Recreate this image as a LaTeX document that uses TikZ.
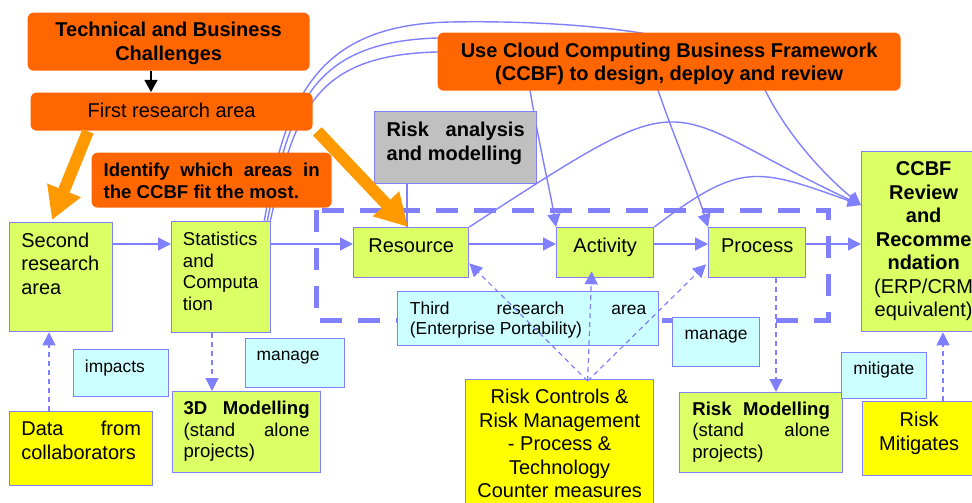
\documentclass[tikz,border=0pt]{standalone}
\usepackage{fontspec}
\setmainfont{Liberation Sans}
\usetikzlibrary{arrows.meta}
\definecolor{lineblue}{HTML}{8080FF}
\definecolor{boxgreen}{HTML}{DDFF66}
\definecolor{boxcyan}{HTML}{CCFFFF}
\definecolor{boxyellow}{HTML}{FFFF00}
\definecolor{boxgray}{HTML}{C0C0C0}
\definecolor{boxorange}{HTML}{FF6600}
\definecolor{arroworange}{HTML}{FF9900}
\newcommand{\txtL}{\fontsize{20}{23.5}\selectfont}
\newcommand{\txtM}{\fontsize{18.6}{21.5}\selectfont}
\newcommand{\txtS}{\fontsize{17.4}{19.3}\selectfont}
%% width, height, first baseline, text
\newcommand{\celltext}[4]{\parbox[c][#2][t]{#1}{\rule{0pt}{#3}#4}}
\pgfdeclarelayer{back}
\pgfsetlayers{back,main}
\tikzset{
  cellbox/.style={anchor=north west, inner ysep=0pt, line width=1.3pt, font=\txtL},
  orangebox/.style={cellbox, fill=boxorange, rounded corners=6pt},
  greenbox/.style={cellbox, draw=lineblue, fill=boxgreen},
  cyanbox/.style={cellbox, draw=lineblue, fill=boxcyan},
  yellowbox/.style={cellbox, draw=lineblue, fill=boxyellow},
  graybox/.style={cellbox, draw=lineblue, fill=boxgray},
  plainlink/.style={draw=lineblue, line width=1.4pt},
  link/.style={plainlink, -{Triangle[length=13pt,width=13pt]}},
  dlink/.style={link, line width=1.2pt, dash pattern=on 5pt off 4pt},
  bigarrow/.style={draw=arroworange, line width=12pt, -{Triangle[length=32pt,width=34pt]}},
  region/.style={draw=lineblue, line width=5pt, dash pattern=on 22pt off 16pt},
}
\begin{document}
\begin{tikzpicture}[x=1pt,y=-1pt]
  \useasboundingbox (0,0) rectangle (972,503);
  %% orange boxes
  \node[orangebox, inner xsep=8pt] (tech) at (27,12) {\celltext{266pt}{58pt}{24pt}{\centering\bfseries Technical and Business\\Challenges}};
  \node[orangebox, inner xsep=8pt] (first) at (30,92) {\celltext{266pt}{38pt}{24.7pt}{\centering First research area}};
  \node[orangebox, inner xsep=12pt, font=\txtM] (ident) at (91,152) {\celltext{216pt}{55pt}{24pt}{\raggedright\bfseries Identify\hfill which\hfill areas\hfill in\\the CCBF fit the most.}};
  \node[orangebox, inner xsep=8pt] (cloud) at (437,32) {\celltext{447pt}{58pt}{24.7pt}{\centering\bfseries Use Cloud Computing Business Framework\\(CCBF) to design, deploy and review}};
  \node[graybox, inner xsep=12pt] (risk) at (374,111) {\celltext{138pt}{72pt}{25pt}{\raggedright\bfseries Risk\hfill analysis\\and modelling}};
  %% main row
  \node[greenbox, inner xsep=11.7pt] (second) at (9,222) {\celltext{79.6pt}{109pt}{24.7pt}{\raggedright Second\\research\\area}};
  \node[greenbox, inner xsep=11.3pt, font=\txtM] (stat) at (171,221) {\celltext{76.4pt}{111pt}{24pt}{\raggedright Statistics\\and\\Computa\\tion}};
  \node[greenbox, inner xsep=5pt] (res) at (353,227) {\celltext{105pt}{50pt}{24.7pt}{\centering Resource}};
  \node[greenbox, inner xsep=5pt] (act) at (556,227) {\celltext{87pt}{50pt}{24.7pt}{\centering Activity}};
  \node[greenbox, inner xsep=5pt] (proc) at (708,227) {\celltext{87pt}{50pt}{24.7pt}{\centering Process}};
  \node[greenbox, inner xsep=6pt] (ccbf) at (861,151) {\celltext{112pt}{180pt}{24pt}{\centering{\bfseries CCBF\\Review\\and\\Recomme\\ndation}\\(ERP/CRM\\equivalent)}};
  %% lower boxes
  \node[cyanbox, inner xsep=12.3pt, font=\txtS] (third) at (397,291) {\celltext{236.4pt}{54pt}{23.3pt}{\raggedright Third\hfill research\hfill area\\(Enterprise Portability)}};
  \node[cyanbox, inner xsep=11.3pt, font=\txtS] (imp) at (73,349) {\celltext{72.4pt}{47pt}{22.7pt}{\raggedright impacts}};
  \node[cyanbox, inner xsep=11pt, font=\txtS] (manl) at (245,338) {\celltext{77pt}{49pt}{21.7pt}{\raggedright manage}};
  \node[greenbox, inner xsep=11pt, font=\txtM] (mod) at (172,391) {\celltext{126pt}{81pt}{23pt}{\raggedright{\bfseries 3D\hfill Modelling}\\(stand\hfill alone\\projects)}};
  \node[yellowbox, inner xsep=11.7pt] (data) at (9,411) {\celltext{119.6pt}{74pt}{24pt}{\raggedright Data\hfill from\\collaborators}};
  \node[yellowbox, inner xsep=6pt] (ctrl) at (465,379) {\celltext{176pt}{140pt}{24.3pt}{\centering Risk Controls \&\\Risk Management\\- Process \&\\Technology\\Counter measures}};
  \node[cyanbox, inner xsep=12pt, font=\txtS] (manr) at (672,317) {\celltext{63pt}{49pt}{22pt}{\raggedright manage}};
  \node[greenbox, inner xsep=12.7pt, font=\txtM] (rmod) at (679,392) {\celltext{137.6pt}{80pt}{22.6pt}{\raggedright{\bfseries Risk\hfill Modelling}\\(stand\hfill alone\\projects)}};
  \node[cyanbox, inner xsep=11.7pt, font=\txtS] (mit) at (841,352) {\celltext{61.6pt}{46pt}{21.6pt}{\raggedright mitigate}};
  \node[yellowbox, inner xsep=6pt] (rmit) at (862,401) {\celltext{101pt}{74pt}{25pt}{\centering Risk\\Mitigates}};
  %% helper coordinates
  \coordinate (flow) at (0,244);
  \coordinate (bx) at (151,0);
  \coordinate (anax) at (407,0);
  \coordinate (datax) at (49,0);
  \coordinate (statx) at (212,0);
  \coordinate (procx) at (776,0);
  \coordinate (rmitx) at (943,0);
  \coordinate (ccbfin) at ([yshift=-54pt]ccbf.north west);
  \coordinate (ctrltop) at ([xshift=28pt,yshift=-2pt]ctrl.north);
  %% behind the boxes
  \begin{pgfonlayer}{back}
    \draw[region] (316,210) rectangle (828,320);
    \draw[link] ([xshift=-1pt]stat.north east) .. controls (295,110) and (315,55) .. (437,52)
      .. controls (500,45) and (525,60) .. (530,90) .. controls (540,150) and (550,190) .. (act.north west);
    \draw[link] ([xshift=-4pt]stat.north east) .. controls (290,105) and (312,42) .. (437,38)
      .. controls (600,38) and (650,60) .. (658,90) .. controls (675,140) and (695,185) .. (proc.north west);
    \draw[link] ([xshift=-7pt]stat.north east) .. controls (285,100) and (315,25) .. (450,22)
      .. controls (560,20) and (740,30) .. (765,90) .. controls (790,140) and (830,180) .. (ccbfin);
  \end{pgfonlayer}
  %% flow
  \draw[link] (second.east |- flow) -- (stat.west |- flow);
  \draw[link] (stat.east |- flow) -- (res.west |- flow);
  \draw[link] (res.east |- flow) -- (act.west |- flow);
  \draw[link] (act.east |- flow) -- (proc.west |- flow);
  \draw[link] (proc.east |- flow) -- (ccbf.west |- flow);
  \draw[link] (res.north east) .. controls (703,75) and (653,108) .. (ccbfin);
  \draw[link] (act.north east) .. controls (741,161) and (757,168) .. (ccbfin);
  \draw[plainlink] (risk.south -| anax) -- (res.north -| anax);
  %% dashed links
  \draw[dlink] (data.north -| datax) -- (second.south -| datax);
  \draw[dlink] (stat.south -| statx) -- (mod.north -| statx);
  \draw[dlink] (proc.south -| procx) -- (rmod.north -| procx);
  \draw[dlink] (rmit.north -| rmitx) -- (ccbf.south -| rmitx);
  \draw[dlink] (ctrltop) -- ([yshift=15pt]res.south east);
  \draw[dlink] (ctrltop) -- ([xshift=-13.5pt,yshift=7pt]act.south);
  \draw[dlink] (ctrltop) -- ([xshift=-2pt,yshift=14pt]proc.south west);
  %% top arrows
  \draw[line width=1.3pt, -{Triangle[length=12pt,width=13pt]}] (tech.south -| bx) -- (first.north -| bx);
  \draw[bigarrow] ([xshift=58pt]first.south west) -- ([xshift=43pt,yshift=2pt]second.north west);
  \draw[bigarrow] ([xshift=4pt]first.south east) -- ([xshift=55pt]res.north west);
\end{tikzpicture}
\end{document}
